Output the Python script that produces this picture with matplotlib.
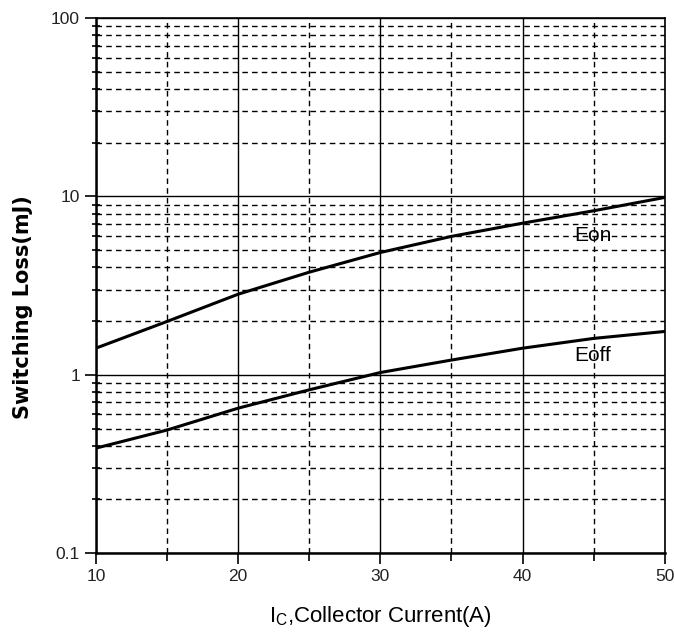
import numpy as np
import matplotlib.pyplot as plt
from matplotlib.ticker import FixedLocator, NullFormatter, FixedFormatter

current = [10, 15, 20, 25, 30, 35, 40, 45, 50]
e_on = [1.41, 1.99, 2.83, 3.76, 4.85, 5.97, 7.08, 8.31, 9.87]
e_off = [0.388, 0.49, 0.65, 0.824, 1.03, 1.21, 1.41, 1.60, 1.75]

x_ticks = [10, 20, 30, 40, 50]
y_ticks = [0.1, 1, 10, 100]
y_tick_labels = ['0.1', '1', '10', '100']

narrow = ['Liberation Sans Narrow', 'Liberation Sans', 'DejaVu Sans']

fig = plt.figure(figsize=(6.75, 6.44), dpi=100)
ax = fig.add_axes([0.142, 0.141, 0.843, 0.831])

ax.plot(current, e_on, color='black', lw=2.2)
ax.plot(current, e_off, color='black', lw=2.2)

ax.set_yscale('log')
ax.set_xlim(10, 50)
ax.set_ylim(0.1, 100)

ax.xaxis.set_major_locator(FixedLocator(x_ticks))
ax.xaxis.set_minor_locator(FixedLocator([15, 25, 35, 45]))
ax.yaxis.set_major_locator(FixedLocator(y_ticks))
ax.yaxis.set_major_formatter(FixedFormatter(y_tick_labels))
minor_y = [m * d for d in [0.1, 1, 10] for m in range(2, 10)]
ax.yaxis.set_minor_locator(FixedLocator(minor_y))
ax.yaxis.set_minor_formatter(NullFormatter())

ax.grid(which='major', color='black', lw=1.0, ls='-')
ax.grid(which='minor', color='black', lw=1.0, ls=(0, (4, 3)))

ax.tick_params(which='both', direction='out', color='black', width=1.2)
ax.tick_params(which='major', length=8, labelsize=12.5)
ax.tick_params(which='minor', length=6)
ax.tick_params(axis='y', which='minor', direction='inout', length=6)
for lab in ax.get_xticklabels() + ax.get_yticklabels():
    lab.set_family(narrow)
    lab.set_color('#222222')

for side in ['top', 'right']:
    ax.spines[side].set_linewidth(1.2)
for side in ['left', 'bottom']:
    ax.spines[side].set_linewidth(1.8)

ax.text(43.6, 6.0, 'Eon', fontsize=15, family=narrow, va='center')
ax.text(43.6, 1.28, 'Eoff', fontsize=15, family=narrow, va='center')

ax.set_ylabel('Switching Loss(mJ)', fontsize=15, fontweight='bold',
              family='DejaVu Sans')
ax.yaxis.set_label_coords(-0.11, 0.46)
ax.set_xlabel(r'I$_{\mathregular{C}}$,Collector Current(A)', fontsize=16,
              family=narrow, labelpad=14)

fig.savefig('out.png', dpi=100)
